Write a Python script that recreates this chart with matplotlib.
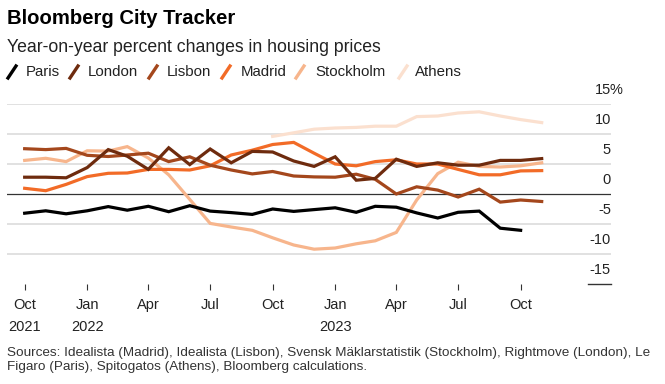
import matplotlib
matplotlib.use('Agg')
import matplotlib.pyplot as plt
import pandas as pd
from matplotlib.lines import Line2D
from matplotlib.transforms import blended_transform_factory

plt.rcParams['font.family'] = ['Liberation Sans', 'DejaVu Sans']

# ---- data (year-on-year % change), monthly from Oct 2021 ----
months = pd.date_range('2021-10-01', '2023-11-01', freq='MS')

paris = [-3.2, -2.8, -3.3, -2.8, -2.1, -2.7, -2.05, -2.95, -1.95, -2.85, -3.1, -3.4,
         -2.5, -2.9, -2.6, -2.3, -3.05, -2.05, -2.2, -3.15, -4.0, -3.05, -2.85, -5.7, -6.05]
london = [2.8, 2.8, 2.7, 4.4, 7.4, 6.3, 4.1, 7.7, 4.9, 7.5, 5.2, 7.1,
          7.0, 5.5, 4.6, 6.2, 2.3, 2.6, 5.8, 4.6, 5.2, 4.8, 4.8, 5.6, 5.6, 5.9]
lisbon = [7.55, 7.4, 7.6, 6.45, 6.25, 6.5, 6.8, 5.4, 6.2, 4.8, 4.0, 3.35,
          3.75, 3.0, 2.85, 2.8, 3.3, 2.45, 0.0, 1.2, 0.65, -0.5, 0.8, -1.35, -1.0, -1.25]
madrid = [0.95, 0.55, 1.6, 2.9, 3.45, 3.5, 4.1, 4.1, 4.0, 4.7, 6.5, 7.3,
          8.25, 8.6, 6.8, 5.0, 4.7, 5.4, 5.7, 5.0, 5.0, 4.1, 3.2, 3.2, 3.85, 3.9]
stockholm = [5.6, 5.95, 5.4, 7.2, 7.15, 7.9, 6.0, 3.2, -0.9, -4.9, -5.5, -6.05,
             -7.3, -8.5, -9.2, -9.0, -8.3, -7.8, -6.4, -1.0, 3.4, 5.3, 4.6, 4.5, 4.7, 5.2]
athens = [9.6, 10.2, 10.8, 11.0, 11.1, 11.3, 11.3, 12.9, 13.0, 13.5, 13.7, 13.0, 12.4, 11.9]
athens_start = 12  # Oct 2022

names = ['Paris', 'London', 'Lisbon', 'Madrid', 'Stockholm', 'Athens']
colors = ['#000000', '#6e2b0e', '#a4471c', '#f26b27', '#f7b58c', '#fbe0cf']

tick_dates = pd.date_range('2021-10-01', '2023-10-01', freq='3MS')
tick_labels = ['Oct\n2021', 'Jan\n2022', 'Apr', 'Jul', 'Oct', 'Jan\n2023', 'Apr', 'Jul', 'Oct']
y_ticks = [15, 10, 5, 0, -5, -10, -15]

# ---- figure ----
W, H = 665, 384
fig = plt.figure(figsize=(W / 100, H / 100), dpi=100)
ax = fig.add_axes([7 / W, (H - 284) / H, (611 - 7) / W, 180 / H])

series = [paris, london, lisbon, madrid, stockholm, athens]
for i in reversed(range(len(series))):
    vals = series[i]
    if names[i] == 'Athens':
        x = months[athens_start:athens_start + len(vals)]
    else:
        x = months[:len(vals)]
    ax.plot(x, vals, color=colors[i], lw=2.3, solid_joinstyle='miter', zorder=3 + (5 - i))

ax.set_ylim(-15, 15)
ax.set_xlim(pd.Timestamp('2021-09-05'), pd.Timestamp('2024-02-11'))

for v in [15, 10, 5, -5, -10]:
    ax.axhline(v, color='#dcdcdc', lw=1.2, zorder=1)
ax.axhline(0, color='#333333', lw=0.9, zorder=2)
bt = blended_transform_factory(ax.transAxes, ax.transData)
ax.plot([0.962, 1.0], [-15, -15], transform=bt, color='#333333', lw=1.0, clip_on=False)

for v in y_ticks:
    ax.annotate(str(v), xy=(1.0, v), xycoords=bt, xytext=(0, 9.8), textcoords='offset points',
                ha='right', va='center', fontsize=10.5, color='#222222')
ax.annotate('%', xy=(1.0, 15), xycoords=bt, xytext=(-0.8, 9.8), textcoords='offset points',
            ha='left', va='center', fontsize=10.5, color='#222222')

ax.set_xticks(tick_dates)
ax.set_xticklabels(tick_labels, fontsize=10.5, color='#222222', linespacing=1.75)
ax.tick_params(axis='x', length=4.5, width=0.8, color='#333333', pad=5.5)
ax.tick_params(axis='y', left=False, labelleft=False)
for s in ax.spines.values():
    s.set_visible(False)

# ---- titles ----
fig.text(7 / W, 1 - 18 / H, 'Bloomberg City Tracker', fontsize=14.6, fontweight='bold',
         va='center', ha='left', color='#000000')
fig.text(7 / W, 1 - 47 / H, 'Year-on-year percent changes in housing prices', fontsize=12.7,
         va='center', ha='left', color='#222222')

# ---- legend ----
slash_x = [8, 70, 149, 222, 296, 399]
text_x = [26, 88, 167, 241, 315, 415]
ly = 72
for i, nm in enumerate(names):
    x0 = slash_x[i]
    fig.add_artist(Line2D([x0 / W, (x0 + 8) / W], [1 - (ly + 6) / H, 1 - (ly - 6) / H],
                          color=colors[i], lw=2.4, transform=fig.transFigure))
    fig.text(text_x[i] / W, 1 - ly / H, nm, fontsize=10.8, va='center', ha='left', color='#222222')

# ---- footnote ----
fig.text(7 / W, 1 - 360 / H,
         'Sources: Idealista (Madrid), Idealista (Lisbon), Svensk Mäklarstatistik (Stockholm), Rightmove (London), Le\n'
         'Figaro (Paris), Spitogatos (Athens), Bloomberg calculations.',
         fontsize=9.7, va='center', ha='left', color='#333333', linespacing=1.3)

fig.savefig('out.png', dpi=100)
